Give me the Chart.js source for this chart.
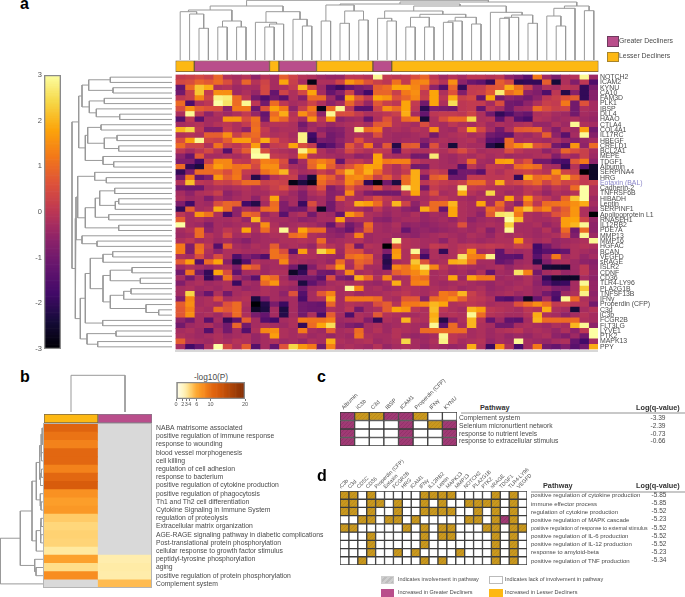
<!DOCTYPE html>
<html><head><meta charset="utf-8">
<script src="https://cdn.jsdelivr.net/npm/chart.js@4"></script>
<style>
html,body{margin:0;padding:0;background:#fff;width:685px;height:597px;overflow:hidden;font-family:"Liberation Sans",Arial,sans-serif}
body{filter:blur(0.35px)}
canvas{position:absolute;display:block}
.t{position:absolute;white-space:nowrap;line-height:1;color:#4a4a4a}
.s{position:absolute;box-sizing:border-box}
</style></head><body>
<script>
/* ---------- panel a data ---------- */
const geneRows=["NOTCH2","ICAM2","KYNU","CA10","FAM3D","PLK1","IBSP","DLL4","HAAO","CTLA4","COL4A1","IL17RC","HBEGF","CRELD1","BCL2A1","MEPE","TDGF1","Albumin","SERPINA4","HRG","Eotaxin (BAL)","Cadherin-2","TNFRSF6B","HIBADH","Leptin","SERPINF1","Apolipoprotein L1","RNASEH1","IL12RB2","PDE7A","MMP13","MMP16","HGFAC","BCAN","VEGFD","sRAGE","ISLR2","CDNF","CD36","TLR4-LY96","PLA2G1B","TNFSF13B","IFNγ","Properdin (CFP)","C3d","iC3b","FCGR2B","FLT3LG","LYVE1","PTK2","MAPK13","PPY"];
const groupRuns=[["L",2],["G",8],["L",1],["G",4],["L",6],["G",2],["L",22]];
// z-scores in tenths, one list per row
const r00=[1,2,4,2,9,-2,-3,-1,-6, -1,-3,8,3,-1,-2,-4,-5,-5, 0,0,-1,29,1,0,1,5,9, 0,-4,-1,-3,0,0,-1,0,-6, -9,-14,12,-4,-9,-2,-1,29,-4];
const r01=[4,5,9,7,10,5,-2,9,-1, 3,-3,18,2,-3,-28,-2,-2,3, 16,12,6,2,0,11,1,13,14, 3,-1,15,-6,-11,-13,-20,8,4, -21,-20,-20,8,-24,-2,-8,0,-16];
const r02=[-12,10,22,19,-2,-1,-4,-3,-3, 4,-3,-2,1,20,4,-4,-15,-19, -12,-9,-7,8,10,18,18,14,7, -6,-15,9,-20,1,1,6,7,19, 11,2,-7,-2,-3,0,-1,-20,-9];
const r03=[-10,2,22,1,15,15,-4,-2,-5, 4,-12,3,-2,4,18,-3,-12,-7, 3,-10,-18,9,9,2,12,15,1, 18,-2,6,-8,1,2,7,27,10, 14,-6,-8,-16,0,-22,-7,-20,-7];
const r04=[0,2,14,3,28,27,10,0,-10, -16,-10,-14,-2,-7,10,10,-4,-13, 18,7,1,18,16,6,9,14,2, 18,0,19,2,4,-12,18,-10,-6, -8,-10,-6,0,2,6,8,-20,-7];
const r05=[10,-16,-2,0,30,26,10,29,0, -10,10,0,-3,-2,3,-2,-6,-3, 9,1,-5,7,2,0,18,1,-10, 18,-2,25,0,1,1,-3,5,-10, -11,-6,-2,2,1,12,-10,6,-3];
const r06=[5,15,8,6,5,-6,12,12,-11, 6,18,12,-6,2,12,-28,10,29, 0,-14,-14,3,15,10,18,0,-21, -8,-9,-10,0,1,-12,0,-3,-10, -4,-3,10,5,2,3,-10,-2,-3];
const r07=[-2,29,0,-6,-2,-4,-2,1,-5, -12,10,19,-1,15,8,-6,29,5, 5,1,-2,-1,0,2,19,-3,-12, 0,1,1,0,3,-2,-10,-20,-16, -10,-12,-2,-1,-3,-4,-10,-3,-4];
const r08=[-15,0,-14,-3,-3,16,16,5,11, -10,13,9,0,-3,16,0,16,-6, -4,-3,-12,-2,6,-1,10,12,-24, -2,5,10,10,24,-2,-1,-13,-3, -14,-17,-1,-2,-4,-3,-2,-4,-5];
const r09=[-3,-2,-1,-3,-1,0,-2,1,10, -2,-1,-1,-2,-10,-4,-2,-5,-3, -2,-1,-3,7,8,-1,-2,-3,5, -2,-3,0,-2,-3,-1,-4,-2,-3, -2,-1,-5,-5,-2,-4,29,-2,-3];
const r10=[20,24,0,-8,-8,1,-2,-6,11, 1,-3,-2,-2,-7,-3,-6,-8,-7, -3,28,10,12,-3,-2,-3,-1,-2, 15,-3,-4,1,19,4,-3,-10,-2, 7,8,9,-3,-8,-2,-4,17,-10];
const r11=[-2,-1,-2,8,8,15,2,8,10, 0,-2,-1,-3,28,-18,-3,-10,-8, -3,-2,-3,5,-3,-4,-4,-3,-2, -10,-3,-2,-1,-3,-2,-10,-12,-13, -3,-4,-2,8,-6,-14,-3,29,-7];
const r12=[5,17,29,3,2,8,17,17,8, 19,6,0,-2,28,-20,-9,-10,-6, -3,6,-2,-3,-3,-4,-3,-3,-7, -3,-2,-3,-2,-1,-4,-14,-16,10, -3,-2,-3,-4,-2,-5,-7,-5,-3];
const r13=[10,3,3,-2,11,2,0,3,17, -5,1,2,18,5,1,-18,-14,-8, 7,0,12,-5,7,-22,7,8,-12, 6,-3,-24,-2,-3,-3,-22,-26,10, 15,20,6,4,-10,-14,16,-6,10];
const r14=[0,-3,0,4,-1,-15,1,8,29, 5,-1,-2,-3,28,19,-2,-5,-3, 4,0,-2,1,0,-14,0,-2,-2, 0,-2,1,5,0,-3,-2,-2,5, 0,-2,-2,-6,-3,9,5,2,-3];
const r15=[-6,-12,7,-3,-3,-2,-3,-1,30, 30,1,0,-2,16,-1,-2,-3,-4, -3,-6,-5,18,-2,-3,-3,-10,-10, 27,-3,-4,-2,-3,-1,-3,-2,-4, -3,-3,-2,-1,-8,-2,-4,2,-4];
const r16=[-8,-8,-18,2,14,14,1,0,6, 13,12,5,-12,-3,10,13,10,-12, 0,1,-2,18,12,13,13,0,-2, -2,-3,-4,-2,10,-3,-4,17,18, 1,6,-10,-10,-16,-17,7,12,-6];
const r17=[10,-20,-23,10,17,14,11,12,4, 15,15,3,-3,-4,9,18,8,1, 6,12,18,17,1,-2,3,-10,-10, -2,-3,-3,-15,0,-4,1,0,-2, 10,12,10,-2,-3,-20,-1,-15,-26];
const r18=[-20,-8,10,10,9,5,11,1,0, 11,14,20,0,-3,-2,2,-1,10, 20,12,19,10,1,-2,1,19,-2, 2,0,-19,-10,-10,-14,0,-2,1, 2,3,1,-1,16,3,1,-30,-26];
const r19=[-10,12,-12,-8,16,8,12,-1,-22, -10,-1,1,2,-10,-24,12,8,0, 14,15,11,2,8,0,10,19,-10, 8,10,-10,-10,1,1,0,0,1, -20,19,10,12,8,20,9,1,-26];
const r20=[-1,21,0,-1,3,2,5,10,10, 2,3,2,-28,-23,-28,10,5,3, 14,9,-20,-29,-10,-23,10,19,0, 3,1,0,2,10,10,1,19,2, 4,7,10,3,8,3,4,1,2];
const r21=[-10,-11,-11,-3,-2,-3,-2,-1,-3, -1,2,5,-1,-4,0,6,-8,-4, 7,1,0,6,-2,0,28,19,-10, 1,-1,-2,28,1,0,-1,-2,-2, -3,0,1,-3,0,-1,10,30,-2];
const r22=[-3,-6,-2,-1,2,-6,-4,-2,-3, -3,0,-1,-4,-8,-2,0,-7,-6, 14,-3,-8,-10,-10,-10,0,18,-2, 5,-3,-2,19,-1,-3,24,-2,-4, -3,0,-2,-5,-2,-3,-1,30,-2];
const r23=[-2,-4,-3,-8,-3,-5,-3,-2,-6, -1,18,-4,-3,-8,-4,-3,-7,8, -2,-3,0,5,0,-2,-4,-3,-3, -1,0,-2,-3,-4,-2,-3,-3,18, -1,16,3,0,-3,9,22,30,-4];
const r24=[-8,-18,-3,-4,5,9,8,-18,-22, -3,10,-8,-3,-19,5,-3,-10,-3, -1,19,17,10,-1,20,3,-6,-2, 10,10,20,-2,-3,18,-3,10,-2, -7,10,0,10,11,12,15,19,-3];
const r25=[-20,8,-3,-2,19,9,-6,-2,-3, 10,11,-8,-10,-10,-1,-26,-10,-3, -2,-3,-5,0,-4,-3,-6,-8,19, 10,-12,18,-2,-3,-4,10,6,-3, 15,22,10,14,2,8,16,-2,-5];
const r26=[0,-3,16,11,-2,-17,-6,10,8, -5,-2,-14,-3,-1,-10,-3,-4,-12, 16,10,-2,-3,-5,-3,-4,-2,-5, -3,-4,18,-2,-3,-6,8,26,27, 12,-2,-3,-1,6,9,16,-2,-30];
const r27=[8,-3,-2,-4,-3,-3,-2,-5,20, -2,-3,-3,-4,-6,-5,-3,-3,17, -3,-2,-2,-6,-7,-4,-3,-3,-5, -4,-3,-5,-2,-6,-4,-3,-4,30, 21,-2,-3,-3,-2,17,18,3,-5];
const r28=[30,-3,-4,-8,-3,-4,-3,-2,-3, 15,-2,-4,-3,-2,-3,-5,-12,-2, -10,-6,10,-3,-4,-2,-6,-5,-6, -5,-4,-3,6,-4,-3,-2,-3,23, -3,-3,-2,-5,-3,17,20,29,-6];
const r29=[-3,-1,10,-6,-3,0,-2,18,-2, 10,-1,29,-2,18,10,10,-6,-8, -12,-4,8,-3,-4,-3,-12,-6,-5, -6,-5,-4,-3,-4,-2,-7,-3,29, -3,-3,-4,-1,-5,10,-10,10,-6];
const r30=[-4,-3,10,-1,-3,4,-3,-2,-4, -3,-2,-2,10,12,-2,-3,-5,-6, -2,13,-4,-3,-3,-4,-5,-6,-4, -3,-2,-3,-4,-2,-3,-5,-2,-3, -2,-3,-4,-3,-2,5,-8,29,-4];
const r31=[-2,0,-3,-2,-4,-3,-5,-7,-4, -3,-3,-2,-2,-1,-2,10,-4,-3, -2,-1,-4,-3,-4,29,-1,-2,-3, -3,-6,-2,-4,-3,-4,-3,-2,-2, 16,-1,-3,-2,-5,-4,-3,-2,29];
const r32=[12,-8,10,0,-15,8,-3,-4,-2, -3,8,-3,-2,-3,-5,3,-1,-3, 5,-10,-1,-2,-30,6,-1,-2,-3, 1,0,-2,0,1,0,1,0,-1, 2,1,-18,-10,-5,-3,-2,-1,-2];
const r33=[12,-8,11,-2,-6,-2,-2,-3,-3, -2,11,5,-14,17,-2,24,18,-4, 6,5,-3,-2,-8,16,-2,29,-9, -2,-20,-2,1,16,-3,-2,-13,-3, -4,-3,-17,-14,-14,-12,-2,-3,-4];
const r34=[-2,-3,5,-3,5,-2,-16,-8,-11, -16,11,10,-3,-2,-2,-3,-4,-5, 10,12,9,-3,-20,17,-2,8,-18, -2,-3,-2,26,13,12,28,-13,-13, -14,-3,-14,-5,12,-3,-2,-5,-3];
const r35=[8,17,-15,10,18,-7,-23,-15,-2, -3,-3,14,-2,-3,-4,-3,-5,10, -2,9,7,-2,-22,-3,-2,22,6, -3,-2,19,20,10,-3,-3,-12,-10, -4,-3,-22,-8,-3,-2,-4,-6,-7];
const r36=[-4,-2,-3,-5,-3,-2,-8,11,7, -4,-3,-3,-10,-23,-8,-2,4,17, -3,7,-3,-3,-20,14,11,18,27, 14,0,-3,-2,-3,-4,-3,-2,-5, -3,-2,-4,-24,-25,-25,-4,0,-6];
const r37=[-10,11,-10,-20,18,5,-13,-3,-2, -4,-2,-2,-26,-20,-3,-10,-11,-3, 14,-3,-2,-4,-3,8,11,14,19, -3,-2,-4,-3,-5,-2,-12,-3,-4, 26,13,-10,-3,-2,-5,-4,0,-5];
const r38=[-3,-10,-3,-20,-10,11,-3,-7,-14, 14,10,-3,-10,-10,-10,-14,5,-8, -10,19,10,-2,14,-3,-2,12,10, -3,-2,18,-4,18,12,12,-4,-3, -4,-2,-5,-20,-26,-26,-26,-3,-6];
const r39=[-8,-3,-2,-4,-3,-2,-19,-3,-4, 10,16,-2,-3,-23,-13,-8,-3,-2, -3,-2,-4,-5,-3,19,-2,13,14, -3,-4,-3,-2,-3,-4,-5,-3,-4, -3,-2,-6,-15,-20,-19,-3,29,-5];
const r40=[-3,-2,-4,-3,-4,-2,-3,-5,-4, -2,-3,-4,-5,-10,-4,-3,-2,-3, 29,14,-3,-2,-4,-3,-1,-2,-3, -2,-3,-2,-4,-3,-2,-5,-4,-3, -2,-3,-5,-4,-8,-8,-3,22,-5];
const r41=[-3,24,-6,-12,-2,-10,-3,-2,-3, -2,-3,-6,6,-15,-3,7,13,-3, -2,-4,-3,-3,-2,-1,0,-2,-3, -1,12,10,20,2,-1,-4,-3,-2, -4,-3,-5,-10,-15,-4,-2,28,-6];
const r42=[-8,14,-3,-2,5,-3,-2,-1,-23, -9,-3,-4,-3,-17,-3,-2,19,-3, 12,12,12,10,-2,-3,7,7,-7, 10,12,15,8,1,0,-2,-14,-16, -10,-26,-12,-3,-17,29,10,-2,-5];
const r43=[8,15,-3,-2,-3,6,10,-2,-30, -22,-9,-19,-3,-10,-11,-12,9,-3, -1,-2,-3,5,8,-1,12,12,14, 20,18,-2,-1,0,-1,-3,-2,-2, 6,10,15,10,1,2,0,-1,-10];
const r44=[7,13,-2,-3,10,7,10,-3,-26, -23,-3,-23,-3,-10,-11,-11,-2,-3, 0,-10,-3,-2,8,18,16,0,-2, 21,0,-2,-3,20,17,0,-1,-2, -3,0,-1,19,-2,-3,-24,-3,-1];
const r45=[7,15,-3,-2,-4,0,10,-2,-9, -12,-3,-22,-3,-10,-2,-17,8,-3, -16,-2,-3,7,-1,-2,-3,-3,-2, 19,-2,-1,-2,29,10,-1,-2,-3, -3,-1,19,-2,-3,-6,-3,-1,-3];
const r46=[-6,-10,-3,-14,-3,-20,-13,8,-3, -15,-18,-3,-2,12,11,11,13,-4, -3,-2,-8,-20,-2,-3,20,-1,-2, 20,-22,-6,-2,20,-1,-12,-4,-13, -14,-3,20,10,10,10,10,-2,-3];
const r47=[-10,-4,-3,-2,-5,-10,9,-10,-3, -2,-3,-4,-2,-20,10,18,25,-5, -8,-10,-3,-2,-4,-3,-2,-3,-4, 29,-14,10,-3,20,-2,-3,-10,-10, -3,-2,-3,-4,-2,-3,20,29,-6];
const r48=[-3,-2,-4,-15,-3,-10,-3,-15,-2, 14,15,-2,-3,12,-3,-4,8,-3, -2,10,-3,-1,-4,-1,-2,-3,10, 10,10,10,10,-3,-2,-4,-2,-1, 0,-3,-2,-3,-5,-2,-6,0,30];
const r49=[-2,-3,-4,-3,-2,-4,-3,-2,-5, -3,17,-2,-3,-2,-4,-3,-5,-3, -4,11,-2,-3,-3,-1,-4,-5,-4, -3,29,0,-1,-3,-2,-4,-3,-5, -4,-5,-3,-2,-6,-8,-4,-10,30];
const r50=[8,-2,-3,-4,-2,-3,-1,-2,-5, -3,-2,-4,-3,-5,-2,-3,19,-2, -3,-2,-1,-4,-3,-2,24,-3,-4, -2,28,0,-3,-2,-1,-5,-3,-4, 29,-3,-4,-5,-3,-2,-12,-18,-3];
const r51=[-3,-18,-12,-2,30,4,-2,8,-15, -3,-12,6,24,16,12,-10,13,-3, -2,-3,-4,-1,-5,-3,-2,-3,-5, -3,-4,-5,-4,19,-2,-19,15,-2, -17,-3,12,-10,-12,-8,-14,-10,19];
const heatRows=[r00,r01,r02,r03,r04,r05,r06,r07,r08,r09,r10,r11,r12,r13,r14,r15,r16,r17,r18,r19,r20,r21,r22,r23,r24,r25,r26,r27,r28,r29,r30,r31,r32,r33,r34,r35,r36,r37,r38,r39,r40,r41,r42,r43,r44,r45,r46,r47,r48,r49,r50,r51];
const zTicks=[-3,-2,-1,0,1,2,3];
// dendrogram merges: [height, childA, childB]; a number is a leaf index
const colTree=[59.7,
 [54,[50,[48.3,0,[46,1,[31.7,2,3]]],[39,[33,4,5],[33,6,7]]],[48.3,[37.7,8,[36,[33,9,10],11]],[40.7,12,[34,13,14]]]],
 [58,[56,[55,[39,15,16],[49,[36.7,17,18],[40,19,20]]],
   [54,[49,[41.7,21,[39,22,23]],[45.7,[42.7,[33,24,25],[33,26,27]],[42.7,[39,[37.7,28,29],30],[36,31,32]]]],
       [47.7,33,[45,[42.7,[41.7,34,35],36],[36.7,37,38]]]]],
  [54,[51.7,[44,39,[34,40,41]],42],[49.3,43,44]]]];
const rowTree=[100,
 [93.3,[90,[83.3,[61.7,0,1],[59,2,3]],[82.7,[67.7,4,5],[75.7,6,[52.3,7,8]]]],
       [86.7,[84.3,[71,9,10],[67.7,[55,11,12],[53.3,13,14]]],[69,15,[58.3,16,17]]]],
 [96.7,[96,[94.3,[77.3,18,[65.7,19,20]],[86.7,[76.7,[72.3,[57.3,21,22],[56.7,[53.3,23,24],25]],[63.3,26,27]],[53.3,28,29]]],[90,30,[75,31,32]]],
       [91.7,[86.7,[81.7,[69,[59.3,33,34],35],[69,[61.7,[40,36,37],[31.7,38,39]],[61.7,[48.3,[41,40,41],42],[26,43,[13.3,44,45]]]]],[69.3,46,47]],
             [85,[56,48,49],[74.3,50,51]]]]];
/* ---------- panel b data ---------- */
const pathwaysB=["NABA matrisome associated","positive regulation of immune response","response to wounding","blood vessel morphogenesis","cell killing","regulation of cell adhesion","response to bacterium","positive regulation of cytokine production","positive regulation of phagocytosis","Th1 and Th2 cell differentiation","Cytokine Signaling in Immune System","regulation of proteolysis","Extracellular matrix organization","AGE-RAGE signaling pathway in diabetic complications","Post-translational protein phosphorylation","cellular response to growth factor stimulus","peptidyl-tyrosine phosphorylation","aging","positive regulation of protein phosphorylation","Complement system"];
const bLesser=[11,9.5,8.5,10.5,10.5,8.5,10.5,12,7.5,6.5,7,4.3,3.8,4,3.9,3,6.3,3.5,7.8,null];
const bGreater=[null,null,null,null,null,null,null,null,null,null,null,null,null,null,null,null,2.6,2.8,2.7,5];
const bTicks=[0,2,3,4,6,10,20];
const bTree=[43.7,[23.7,[12,[7.7,[4.3,[3,[2,0,[1.5,1,2]],[2.5,3,4]],[3.5,[2.5,5,6],7]],[3.7,8,[3,9,10]]],
  [7.7,[3.5,[3,11,12],[3.3,13,14]],15]],[9.3,16,[8,17,18]]],19];
const bColTree=[36.7,0,1];
/* ---------- panels c and d data ---------- */
const genesC=["Albumin","iC3b","C3d","IBSP","ICAM1","Properdin (CFP)","IFNγ","KYNU"];
const gridC=["PGGPPG..","P...P.GP","P...P..P","P...P..P"];
const pathwaysC=["Complement system","Selenium micronurtient network","response to nutrient levels","response to extracellular stimulus"];
const logqC=["-3.39","-2.39","-0.73","-0.66"];
const genesD=["iC3b","C3d","CD5C","CD36","Properdin (CFP)","Eotaxin","FCGR2B","HRG","ICAM1","IFNγ","IL12RB2","Leptin","MAPK13","MMP13","NOTCH2","PLA2G1B","PTK2","sRAGE","TDGF1","TLR4-LY96","VEGFD"];
const gridD=["GG.G.....GGGG....G.G.","GG.GG.G..G.G..GGGG.G.","GG.G..G..GGGG..G.G.G.","..GG.GG.G.....GG.GPG.","GG.....G.G.GG...GG.GG","...G.....G.GG....G.G.","...G.....G.......G.G.","...G..G.G....G...G.G.","..G......G.G.....G.G."];
const pathwaysD=["positive regulation of cytokine production","immune effector process","regulation of cytokine production","positive regulation of MAPK cascade","positive regulation of response to external stimulus","positive regulation of IL-6 production","positive regulation of IL-12 production","response to amyloid-beta","positive regulation of TNF production"];
const logqD=["-5.85","-5.85","-5.52","-5.23","-5.52","-5.52","-5.52","-5.23","-5.34"];

/* ---------- helpers ---------- */
Chart.defaults.animation=false;Chart.defaults.responsive=false;Chart.defaults.maintainAspectRatio=false;
Chart.defaults.plugins.legend.display=false;Chart.defaults.plugins.tooltip.enabled=false;Chart.defaults.font.family='"Liberation Sans",Arial,sans-serif';
Chart.defaults.layout.autoPadding=false;
const PURPLE='#b94e8b',GOLD='#fdb813',TXT='#4a4a4a';
function mk(x,y,w,h,config){const c=document.createElement('canvas');c.width=w;c.height=h;c.style.left=x+'px';c.style.top=y+'px';c.style.width=w+'px';c.style.height=h+'px';document.body.appendChild(c);return new Chart(c,config);}
function txt(x,base,s,fs,o){o=o||{};const d=document.createElement('div');d.className='t';d.textContent=s;d.style.fontSize=fs+'px';d.style.top=(base-0.8465*fs)+'px';
 if(o.center)d.style.left=(x-200)+'px',d.style.width='400px',d.style.textAlign='center';else d.style.left=x+'px';
 if(o.bold)d.style.fontWeight='bold';if(o.color)d.style.color=o.color;document.body.appendChild(d);return d;}
function box(x,y,w,h,bg,border){const d=document.createElement('div');d.className='s';d.style.cssText+=`left:${x}px;top:${y}px;width:${w}px;height:${h}px;background:${bg};border:1px solid ${border}`;document.body.appendChild(d);}
function lerpStops(stops,t){t=Math.max(stops[0][0],Math.min(stops[stops.length-1][0],t));
 for(let i=1;i<stops.length;i++){if(t<=stops[i][0]){const a=stops[i-1],b=stops[i],k=(t-a[0])/(b[0]-a[0]);const ca=a[1],cb=b[1];
  return `rgb(${Math.round(ca[0]+(cb[0]-ca[0])*k)},${Math.round(ca[1]+(cb[1]-ca[1])*k)},${Math.round(ca[2]+(cb[2]-ca[2])*k)})`;}}
 return 'rgb(0,0,0)';}
const inferno=[[-3,[0,0,4]],[-2.4,[22,11,57]],[-1.8,[66,10,104]],[-1.2,[101,21,110]],[-.6,[141,35,105]],[-.3,[165,44,96]],[0,[188,55,84]],[.6,[221,81,58]],[1.2,[243,120,25]],[1.8,[252,165,10]],[2.4,[246,215,70]],[3,[252,255,164]]];
const zColor=v=>lerpStops(inferno,v);
const pColorStops=[[0,[255,255,240]],[2,[255,244,192]],[3,[255,233,160]],[4,[255,210,114]],[5,[255,187,80]],[6,[253,165,46]],[8,[247,138,30]],[10,[229,107,18]],[12,[216,92,12]],[20,[127,44,4]]];
const pColor=v=>v===null?'#d9d9d9':lerpStops(pColorStops,v);
function treeSegs(node,out){if(typeof node==='number')return{pos:node+.5,h:0};const a=treeSegs(node[1],out),b=treeSegs(node[2],out),h=node[0];
 out.push([[a.pos,a.h],[a.pos,h],[b.pos,h],[b.pos,b.h]]);return{pos:(a.pos+b.pos)/2,h};}
function treeChart(x,y,w,h,tree,vertical,posMax,hMin,hMax,pad){const segs=[];treeSegs(tree,segs);
 const datasets=segs.map(s=>({data:s.map(p=>vertical?{x:p[0],y:p[1]}:{x:p[1],y:p[0]}),showLine:true,pointRadius:0,borderColor:'#999999',borderWidth:1,clip:false,tension:0}));
 const posScale={type:'linear',min:0,max:posMax,display:false},hScale={type:'linear',min:hMin,max:hMax,display:false};
 if(!vertical){posScale.reverse=true;hScale.reverse=true;}
 mk(x,y,w,h,{type:'scatter',data:{datasets},options:{layout:{padding:pad||0},scales:vertical?{x:posScale,y:hScale}:{x:hScale,y:posScale}}});}
const cellOpts={barPercentage:1,categoryPercentage:1,grouped:false};
function hatch(base,line){const c=document.createElement('canvas');c.width=c.height=4;const g=c.getContext('2d');g.fillStyle=base;g.fillRect(0,0,4,4);g.strokeStyle=line;g.lineWidth=.7;g.beginPath();g.moveTo(-1,5);g.lineTo(5,-1);g.moveTo(-1,1);g.lineTo(1,-1);g.moveTo(3,5);g.lineTo(5,3);g.stroke();return g.createPattern(c,'repeat');}

/* ---------- panel a ---------- */
treeChart(175,0,424,61,colTree,true,45,-1,60,{left:.5,right:.5});
treeChart(70,74,103,276,rowTree,false,52,-1,102,{top:.5,bottom:.5});
// group strip
(function(){let at=0;const ds=groupRuns.map(([g,n])=>{const d={data:[[at,at+n]],backgroundColor:g==='G'?PURPLE:GOLD,borderColor:'#6f5a3a',borderWidth:1,borderSkipped:false,...cellOpts};at+=n;return d;});
 mk(175,60,424,13,{type:'bar',data:{labels:['group'],datasets:ds},options:{indexAxis:'y',layout:{padding:{left:.5,right:.5,top:.5,bottom:1}},scales:{x:{type:'linear',min:0,max:45,display:false},y:{display:false,offset:true}}}});})();
// main heatmap
(function(){const ds=[];for(let c=0;c<45;c++)ds.push({data:heatRows.map(()=>[c,c+1]),backgroundColor:heatRows.map(r=>zColor(r[c]/10)),borderWidth:0,...cellOpts});
 mk(175,74,510,276,{type:'bar',data:{labels:geneRows,datasets:ds},options:{indexAxis:'y',layout:{padding:{left:.5,top:.5,bottom:.5}},scales:{
  x:{type:'linear',min:0,max:45,display:false},
  y:{position:'right',offset:true,grid:{display:false,drawTicks:false},border:{display:false},afterFit(s){s.width=87;s.paddingTop=0;s.paddingBottom=0;},
     ticks:{autoSkip:false,padding:2,font:{size:6.9},color:c=>c.index===20?'#8a85c9':TXT}}}}});})();
box(175,350,423,1,'#d8d8d8','#d8d8d8');
// main colour bar
(function(){const ds=[{data:[[-3,3]],backgroundColor:'rgba(0,0,0,0)',borderColor:'#8a8a8a',borderWidth:1,borderSkipped:false,...cellOpts}];
 for(let i=0;i<120;i++){const a=-3+i*.05;ds.push({data:[[a,a+.05]],backgroundColor:zColor(a+.025),borderWidth:0,...cellOpts});}
 mk(20,64,41,296,{type:'bar',data:{labels:[''],datasets:ds},options:{layout:{padding:{top:11,bottom:11}},scales:{x:{display:false,offset:true},
  y:{type:'linear',min:-3,max:3,position:'left',afterFit(s){s.width=24;s.paddingTop=0;s.paddingBottom=0;},afterBuildTicks(s){s.ticks=zTicks.map(v=>({value:v}));},grid:{display:false,drawTicks:false},border:{display:false},ticks:{padding:2,font:{size:7.5},color:'#555',callback:v=>String(v)}}}}});})();
box(607,36,12,11,PURPLE,'#6e3a5e');txt(619,43.5,'Greater Decliners',6.9);
box(607,52,12,10,GOLD,'#a8842a');txt(619,58.5,'Lesser Decliners',6.9);
txt(20,9.5,'a',16,{bold:true,color:'#000'});

/* ---------- panel b ---------- */
txt(20,383,'b',16,{bold:true,color:'#000'});
txt(211,380,'-log10(P)',8.3,{center:true});
treeChart(0,424,44,164,bTree,false,20,0,44);
treeChart(44,374,108,40,bColTree,true,2,-2,38,0);
(function(){mk(44,414,108,9,{type:'bar',data:{labels:['g'],datasets:[
  {data:[[0,1]],backgroundColor:GOLD,borderColor:'#7a6a4a',borderWidth:1,borderSkipped:false,...cellOpts},
  {data:[[1,2]],backgroundColor:PURPLE,borderColor:'#8a7a8a',borderWidth:1,borderSkipped:false,...cellOpts}]},
  options:{indexAxis:'y',scales:{x:{type:'linear',min:0,max:2,display:false},y:{display:false,offset:true}}}});})();
mk(44,424,290,164,{type:'bar',data:{labels:pathwaysB,datasets:[
  {data:pathwaysB.map(()=>[0,1]),backgroundColor:bLesser.map(pColor),borderWidth:0,...cellOpts},
  {data:pathwaysB.map(()=>[1,2]),backgroundColor:bGreater.map(pColor),borderWidth:0,...cellOpts}]},
  options:{indexAxis:'y',scales:{x:{type:'linear',min:0,max:2,display:false},
   y:{position:'right',offset:true,grid:{display:false,drawTicks:false},border:{display:false},afterFit(s){s.width=183;s.paddingTop=0;s.paddingBottom=0;},ticks:{autoSkip:false,padding:5,font:{size:6.8},color:TXT}}}}});
box(43,423,109,165,'transparent','#b4b4b4');
(function(){const ds=[{data:[[0,20]],backgroundColor:'rgba(0,0,0,0)',borderColor:'#8a8a8a',borderWidth:1,borderSkipped:false,...cellOpts}];
 for(let i=0;i<80;i++){const a=i*.25;ds.push({data:[[a,a+.25]],backgroundColor:pColor(a+.125),borderWidth:0,...cellOpts});}
 mk(170,382,82,29,{type:'bar',data:{labels:[''],datasets:ds},options:{indexAxis:'y',layout:{padding:{left:6,right:7}},scales:{y:{display:false,offset:true},
  x:{type:'linear',min:0,max:20,afterFit(s){s.height=12;s.paddingLeft=0;s.paddingRight=0;},afterBuildTicks(s){s.ticks=bTicks.map(v=>({value:v}));},
     grid:{drawOnChartArea:false,drawTicks:true,tickLength:2,color:'#777'},border:{display:false},ticks:{autoSkip:false,maxRotation:0,padding:0,font:{size:5.5},color:'#555',callback:v=>String(v)}}}}});})();

/* ---------- panels c, d ---------- */
const cellFill={P:hatch('#a03a74','#8d2f66'),G:hatch('#c9981e','#b5861a'),'.':'#ffffff'};
function gridChart(x,y,w,h,axisH,padRight,genes,rows,fontSize){
 const ds=rows.map((row,r)=>({data:genes.map(()=>[r,r+1]),backgroundColor:genes.map((g,c)=>cellFill[row[c]]),borderColor:'#3c3c3c',borderWidth:1,borderSkipped:false,...cellOpts}));
 mk(x,y,w,h,{type:'bar',data:{labels:genes,datasets:ds},options:{layout:{padding:{right:padRight}},scales:{
  y:{type:'linear',min:0,max:rows.length,reverse:true,display:false},
  x:{position:'top',offset:true,afterFit(s){s.height=axisH;s.paddingLeft=0;s.paddingRight=0;},grid:{display:false,drawTicks:false},border:{display:false},
     ticks:{autoSkip:false,minRotation:45,maxRotation:45,padding:1,font:{size:fontSize},color:TXT}}}}});}
txt(317,383,'c',16,{bold:true,color:'#000'});
gridChart(340,366,135,80,46,18,genesC,gridC,5.6);
txt(480,410.5,'Pathway',7.3,{bold:true,color:'#333'});txt(636,410.5,'Log(q-value)',7.3,{bold:true,color:'#333'});
box(461,412,224,1,'#c8c8c8','#c8c8c8');
pathwaysC.forEach((s,i)=>{const b=421+i*7.6;txt(459,b,s,6.7);txt(658,b,logqC[i],6.6,{center:true});});
txt(317,482,'d',16,{bold:true,color:'#000'});
gridChart(340,452,202,113,39,15,genesD,gridD,5.3);
txt(543,488.5,'Pathway',7.3,{bold:true,color:'#333'});txt(636,488.5,'Log(q-value)',7.3,{bold:true,color:'#333'});
box(531,491,154,1,'#c8c8c8','#c8c8c8');
pathwaysD.forEach((s,i)=>{const b=497.5+i*8.15;txt(531,b,s,i===4?5.2:6.05);txt(659,b,logqD[i],6.5,{center:true});});
box(381,576,13,8,'repeating-linear-gradient(135deg,#cfcfcf 0 2px,#bdbdbd 2px 4px)','#cfcfcf');txt(398,582,'Indicates involvement in pathway',5.5);
box(489,576,14,8,'#fff','#bbb');txt(505,582,'Indicates lack of involvement in pathway',5.5);
box(381,589,13,8,PURPLE,PURPLE);txt(398,595,'Increased in Greater Decliners',5.5);
box(489,589,14,8,GOLD,GOLD);txt(505,595,'Increased in Lesser Decliners',5.5);
</script>
</body></html>
